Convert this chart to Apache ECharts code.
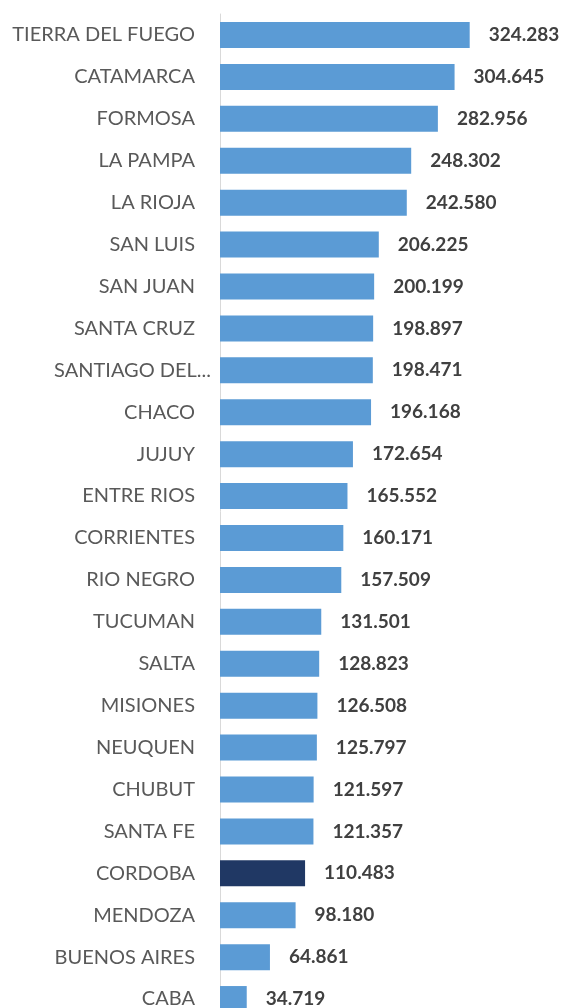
<!DOCTYPE html>
<html>
<head>
<meta charset="utf-8">
<script src="https://cdn.jsdelivr.net/npm/echarts@6/dist/echarts.min.js"></script>
<style>
  html, body { margin: 0; padding: 0; background: #fff; }
  #chart { width: 563px; height: 1008px; }
</style>
</head>
<body>
<div id="chart"></div>
<script>
// provincias, de mayor a menor
const provincias = [
  'TIERRA DEL FUEGO', 'CATAMARCA', 'FORMOSA', 'LA PAMPA', 'LA RIOJA', 'SAN LUIS',
  'SAN JUAN', 'SANTA CRUZ', 'SANTIAGO DEL...', 'CHACO', 'JUJUY', 'ENTRE RIOS',
  'CORRIENTES', 'RIO NEGRO', 'TUCUMAN', 'SALTA', 'MISIONES', 'NEUQUEN',
  'CHUBUT', 'SANTA FE', 'CORDOBA', 'MENDOZA', 'BUENOS AIRES', 'CABA'
];
const valores = [
  324283, 304645, 282956, 248302, 242580, 206225,
  200199, 198897, 198471, 196168, 172654, 165552,
  160171, 157509, 131501, 128823, 126508, 125797,
  121597, 121357, 110483, 98180, 64861, 34719
];
const destacada = 'CORDOBA';

const fmt = (v) => String(v).replace(/\B(?=(\d{3})+(?!\d))/g, '.');

const chart = echarts.init(document.getElementById('chart'));
const option = {
  animation: false,
  grid: {
    left: 220,
    right: 35,
    top: 14,
    height: 1006,
    outerBoundsMode: 'none',
    containLabel: false,
  },
  xAxis: {
    type: 'value',
    min: 0,
    max: 400000,
    show: false,
  },
  yAxis: {
    type: 'category',
    inverse: true,
    // el nombre cortado llega más cerca del eje, como en el original
    data: provincias.map((p) =>
      p.endsWith('...') ? { value: p, textStyle: { padding: [0, -16, 0, 0] } } : p
    ),
    axisTick: { show: false },
    axisLine: { show: true, lineStyle: { color: '#d9d9d9', width: 1 } },
    axisLabel: {
      margin: 25,
      color: '#595959',
      fontSize: 20,
      fontFamily: 'Lato, "Open Sans", sans-serif',
    },
  },
  series: [
    {
      type: 'bar',
      barWidth: 26,
      data: valores.map((v, i) => ({
        value: v,
        itemStyle: { color: provincias[i] === destacada ? '#203864' : '#5b9bd5' },
      })),
      label: {
        show: true,
        position: 'right',
        distance: 19,
        formatter: (p) => fmt(p.value),
        color: '#404040',
        fontSize: 19,
        fontWeight: 'bold',
        fontFamily: 'Lato, "Open Sans", sans-serif',
      },
    },
  ],
};
chart.setOption(option);
</script>
</body>
</html>
